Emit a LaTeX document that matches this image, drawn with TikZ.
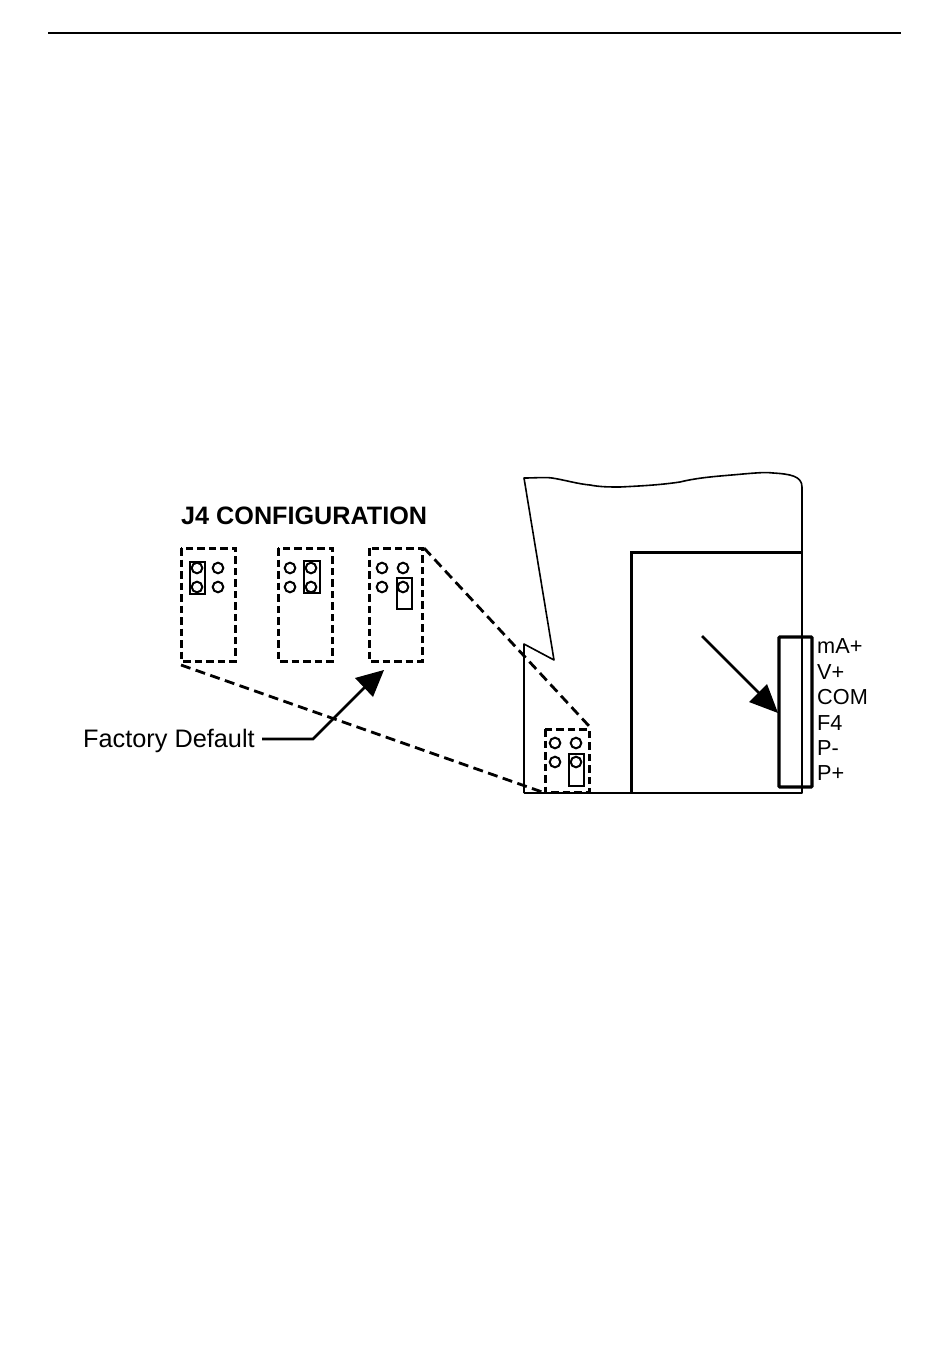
\documentclass[tikz,border=0pt]{standalone}
\usepackage{fontspec}
\setmainfont{Liberation Sans}
\tikzset{
  x=1pt,y=-1pt,
  dashbox/.style={line width=3pt,dash pattern=on 7.5pt off 4pt},
  dashzoom/.style={line width=2.8pt,dash pattern=on 10pt off 5.5pt},
  pin/.style={line width=2pt},
  jumper/.style={line width=2.1pt},
  label/.style={inner sep=0pt,anchor=base west,font=\fontsize{21.7}{22}\selectfont},
  thin outline/.style={line width=1.6pt,line join=round},
  thick outline/.style={line width=3pt},
}
\newcommand{\pinset}[4]{% x1 x2 y1 y2
  \draw[pin] (#1,#3) circle[radius=5.3pt] (#2,#3) circle[radius=5.3pt] (#1,#4) circle[radius=5.3pt] (#2,#4) circle[radius=5.3pt];}
\begin{document}
\begin{tikzpicture}
\useasboundingbox (0,0) rectangle (950,1372);
\draw[line width=1.4pt] (48,33) -- (901,33);

% housing outline
\draw[thin outline] (524,793) -- (524,644) -- (554,660) -- (524,478)
  .. controls (535,478) and (545,477) .. (552,478)
  .. controls (565,480) and (578,484) .. (590,485)
  .. controls (600,487) and (610,487) .. (620,487)
  .. controls (640,486) and (660,485) .. (680,482)
  .. controls (700,477) and (722,476) .. (743,474)
  .. controls (755,473) and (765,472) .. (773,473)
  .. controls (790,474) and (802,476) .. (802,487)
  -- (802,793) -- (703,793);
\draw[line width=2.2pt] (524,793) -- (703,793);
\draw[thick outline] (631,793) -- (631,552) -- (802,552);

% J4 boxes
\draw[dashbox] (181,548) rectangle (235,661);
\draw[dashbox] (278,548) rectangle (332,661);
\draw[dashbox] (369,548) rectangle (422,661);
\draw[dashbox] (545,729) rectangle (589,792);
\pinset{197}{218}{568}{587}
\pinset{290}{311}{568}{587}
\pinset{382}{403}{568}{587}
\pinset{555}{576}{743}{762}
\draw[jumper] (190,562) rectangle (205,594);
\draw[jumper] (304,561) rectangle (320,593);
\draw[jumper] (397,578) rectangle (412,609);
\draw[jumper] (569,754) rectangle (584,786);

% zoom lines
\draw[dashzoom] (181,665) -- (545,793);
\draw[dashzoom] (424,548) -- (589,726);

% connector block
\draw[line width=3.4pt,rounded corners=1pt] (779,637) rectangle (812,787);
\draw[line width=2.8pt] (702,636) -- (765,699);
\fill (778,713) -- (749,702) -- (767,684) -- cycle;

% factory default arrow
\node[label,font=\fontsize{25.3}{26}\selectfont] (fd) at (83,747) {Factory Default};
\coordinate (fdbend) at (313,739);
\coordinate (fdend) at (366,686);
\draw[line width=2.8pt] (262,739) -- (fdbend) -- (fdend);
\fill (384,670) -- (355,678) -- (373,697) -- cycle;

% labels
\node[label,font=\bfseries\fontsize{25.2}{26}\selectfont] (title) at (181,524) {J4 CONFIGURATION};
\node[label] (t1) at (817,653) {mA+};
\node[label] (t2) at (817,679) {V+};
\node[label] (t3) at (817,704) {COM};
\node[label] (t4) at (817,730) {F4};
\node[label] (t5) at (817,755) {P-};
\node[label] (t6) at (817,780) {P+};
\end{tikzpicture}
\end{document}
